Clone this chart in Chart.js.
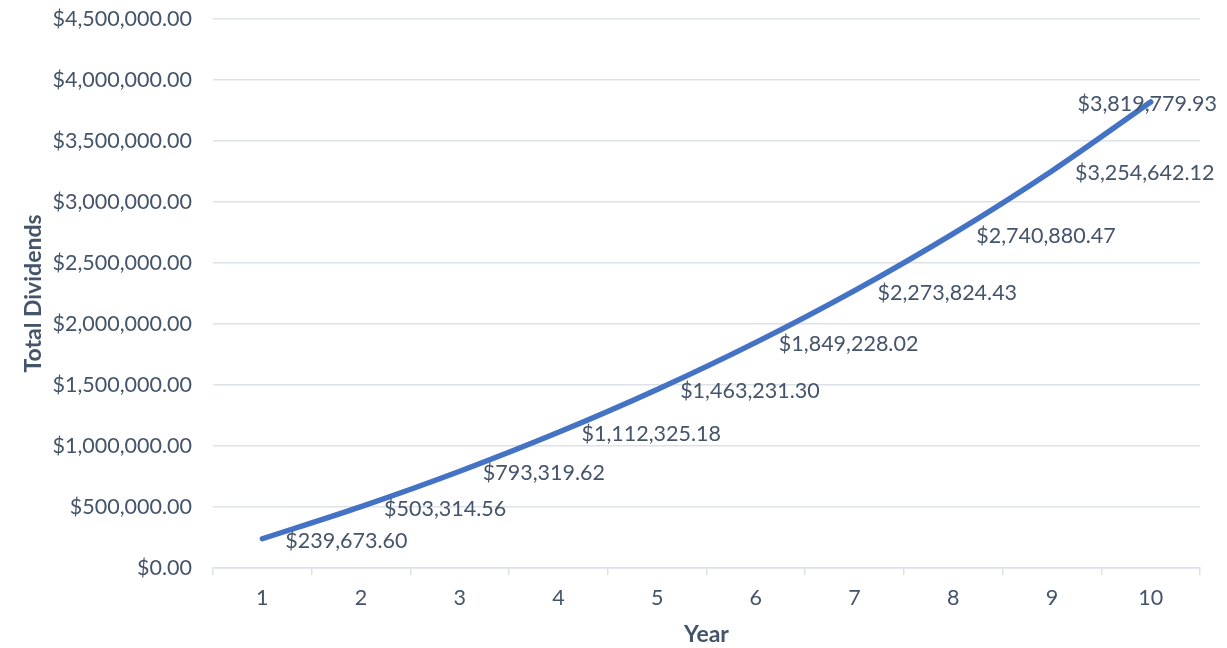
<!DOCTYPE html>
<html>
<head>
<meta charset="utf-8">
<script src="https://cdn.jsdelivr.net/npm/chart.js@4/dist/chart.umd.min.js"></script>
<style>
  html, body { margin: 0; padding: 0; background: #fff; }
  #wrap { width: 1227px; height: 648px; position: relative; }
</style>
</head>
<body>
<div id="wrap"><canvas id="c"></canvas></div>
<script>
// Cumulative dividends by year
const years = ['1', '2', '3', '4', '5', '6', '7', '8', '9', '10'];
const totalDividends = [239673.60, 503314.56, 793319.62, 1112325.18, 1463231.30,
                        1849228.02, 2273824.43, 2740880.47, 3254642.12, 3819779.93];
const yTickStep = 500000;
const yMax = 4500000;

const TEXT = '#44546A';
const GRID = '#dde1e8';
const LINE = '#4472C4';
const FONT = 'Lato, "Open Sans", sans-serif';
const SIZE = 21.5;

const money = v => '$' + v.toLocaleString('en-US', { minimumFractionDigits: 2, maximumFractionDigits: 2 });

// Value labels to the right of each point, kept inside the canvas
const valueLabels = {
  id: 'valueLabels',
  afterDatasetsDraw(chart) {
    const ctx = chart.ctx;
    const meta = chart.getDatasetMeta(0);
    const data = chart.data.datasets[0].data;
    ctx.save();
    ctx.font = SIZE + 'px ' + FONT;
    ctx.fillStyle = TEXT;
    ctx.textBaseline = 'middle';
    ctx.textAlign = 'left';
    meta.data.forEach((pt, i) => {
      const txt = money(data[i]);
      const w = ctx.measureText(txt).width;
      const x = Math.min(pt.x + 23, chart.width - 10 - w);
      ctx.fillText(txt, x, pt.y + 2);
    });
    ctx.restore();
  }
};

new Chart(document.getElementById('c'), {
  type: 'line',
  data: {
    labels: years,
    datasets: [{
      data: totalDividends,
      borderColor: LINE,
      borderWidth: 5.5,
      borderCapStyle: 'round',
      borderJoinStyle: 'round',
      pointRadius: 0,
      pointHoverRadius: 0,
      tension: 0.3,
      fill: false
    }]
  },
  options: {
    responsive: true,
    maintainAspectRatio: false,
    animation: false,
    events: [],
    layout: { padding: { top: 19, right: 27, left: 0, bottom: 0 } },
    plugins: {
      legend: { display: false },
      tooltip: { enabled: false }
    },
    scales: {
      x: {
        offset: true,
        grid: {
          offset: true,
          drawOnChartArea: false,
          drawTicks: true,
          tickLength: 7,
          color: GRID,
          lineWidth: 1.5
        },
        border: { display: true, color: GRID, width: 1.5 },
        ticks: { color: TEXT, font: { family: FONT, size: SIZE }, padding: 10, maxRotation: 0 },
        title: {
          display: true,
          text: 'Year',
          color: TEXT,
          font: { family: FONT, size: 23, weight: 'bold' },
          padding: { top: 4, bottom: 0 }
        },
        afterFit(scale) { scale.height = 80; scale.paddingLeft = 0; scale.paddingRight = 0; }
      },
      y: {
        min: 0,
        max: yMax,
        grid: { color: GRID, lineWidth: 1.5, drawTicks: false },
        border: { display: false },
        ticks: {
          stepSize: yTickStep,
          color: TEXT,
          font: { family: FONT, size: SIZE },
          padding: 21,
          callback: v => money(v)
        },
        title: {
          display: true,
          text: 'Total Dividends',
          color: TEXT,
          font: { family: FONT, size: 23, weight: 'bold' },
          padding: { top: 20, bottom: 0 }
        },
        afterFit(scale) { scale.width = 213; scale.paddingTop = 0; scale.paddingBottom = 0; }
      }
    }
  },
  plugins: [valueLabels]
});
</script>
</body>
</html>
